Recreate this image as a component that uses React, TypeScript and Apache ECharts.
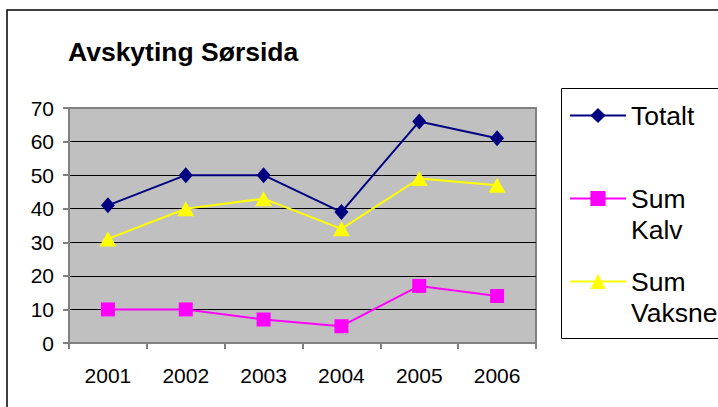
import React, { useEffect, useRef } from "react";
import * as echarts from "echarts";

const years = ["2001", "2002", "2003", "2004", "2005", "2006"];
const totalt = [41, 50, 50, 39, 66, 61];
const sumKalv = [10, 10, 7, 5, 17, 14];
const sumVaksne = [31, 40, 43, 34, 49, 47];
const titleText = "Avskyting Sørsida";

const FONT = "'Liberation Sans', Arial, sans-serif";

export default function App() {
  const ref = useRef<HTMLDivElement>(null);
  useEffect(() => {
    const chart = echarts.init(ref.current!, null, { renderer: "svg" });
    const legendBase = {
      orient: "vertical",
      left: 569,
      padding: 0,
      itemWidth: 56,
      itemHeight: 19,
      itemGap: 0,
      textStyle: { fontFamily: FONT, fontSize: 26.5, color: "#000", lineHeight: 31 },
    };
    chart.setOption({
      animation: false,
      backgroundColor: "#fff",
      title: {
        text: titleText,
        left: 68,
        top: 38,
        padding: 0,
        textStyle: { fontFamily: FONT, fontSize: 26.5, fontWeight: "bold", color: "#000" },
      },
      legend: [
        { ...legendBase, top: 100, data: ["Totalt"] },
        { ...legendBase, top: 152, data: ["Sum Kalv"], formatter: () => " \nSum\nKalv" },
        { ...legendBase, top: 235, data: ["Sum Vaksne"], formatter: () => " \nSum\nVaksne" },
      ],
      graphic: [
        {
          type: "rect",
          shape: { x: 7, y: 10, width: 760, height: 460 },
          style: { fill: "none", stroke: "#000", lineWidth: 1.5 },
          silent: true,
        },
        {
          type: "rect",
          shape: { x: 561.5, y: 88.5, width: 220, height: 250 },
          style: { fill: "none", stroke: "#000", lineWidth: 1 },
          silent: true,
        },
      ],
      grid: {
        left: 69,
        top: 108,
        width: 467,
        height: 235,
        show: true,
        backgroundColor: "#C0C0C0",
        borderColor: "#808080",
        borderWidth: 2,
      },
      xAxis: {
        type: "category",
        data: years,
        boundaryGap: true,
        axisLine: { lineStyle: { color: "#808080", width: 2 } },
        axisTick: { show: true, length: 6, lineStyle: { color: "#808080", width: 2 } },
        axisLabel: { fontFamily: FONT, fontSize: 21, color: "#000", margin: 22 },
        splitLine: { show: false },
      },
      yAxis: {
        type: "value",
        min: 0,
        max: 70,
        interval: 10,
        axisLine: { show: true, lineStyle: { color: "#808080", width: 2 } },
        axisTick: { show: true, length: 6, lineStyle: { color: "#808080", width: 2 } },
        axisLabel: { fontFamily: FONT, fontSize: 21, color: "#000", margin: 15 },
        splitLine: { show: true, showMinLine: false, showMaxLine: false, lineStyle: { color: "#000", width: 1 } },
      },
      series: [
        {
          name: "Totalt",
          type: "line",
          data: totalt,
          symbol: "diamond",
          symbolSize: [14, 16],
          lineStyle: { color: "#000080", width: 2 },
          itemStyle: { color: "#000080" },
        },
        {
          name: "Sum Kalv",
          type: "line",
          data: sumKalv,
          symbol: "rect",
          symbolSize: 14,
          lineStyle: { color: "#FF00FF", width: 2 },
          itemStyle: { color: "#FF00FF" },
        },
        {
          name: "Sum Vaksne",
          type: "line",
          data: sumVaksne,
          symbol: "triangle",
          symbolSize: [17, 15],
          lineStyle: { color: "#FFFF00", width: 2 },
          itemStyle: { color: "#FFFF00" },
        },
      ],
    });
    return () => chart.dispose();
  }, []);
  return (
    <div
      ref={ref}
      style={{ position: "fixed", left: 0, top: 0, width: 718, height: 407, background: "#fff" }}
    />
  );
}
